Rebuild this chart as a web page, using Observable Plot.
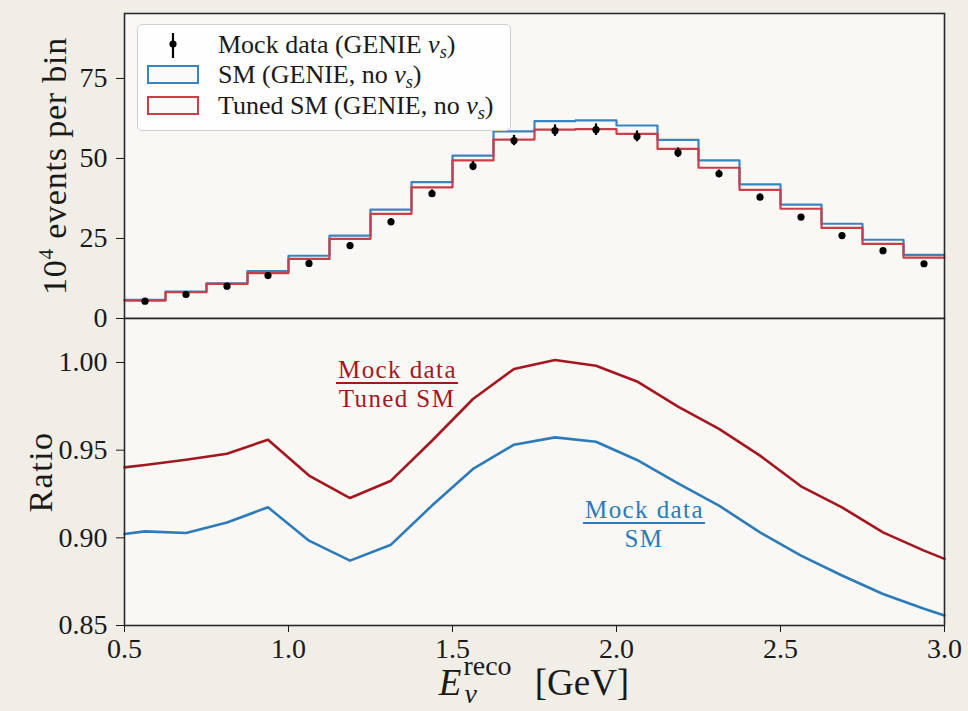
<!DOCTYPE html>
<html>
<head>
<meta charset="utf-8">
<script src="https://cdn.jsdelivr.net/npm/d3@7"></script>
<script src="https://cdn.jsdelivr.net/npm/@observablehq/plot@0.6"></script>
<style>
  html, body { margin: 0; padding: 0; background: #f1eee8; }
  #wrap { position: relative; width: 968px; height: 711px; overflow: hidden; background: #f1eee8;
          font-family: "Liberation Serif", "DejaVu Serif", serif; color: #1a1a1a; }
  #wrap svg { position: absolute; left: 0; overflow: visible; }
  .lbl { position: absolute; white-space: nowrap; }
  .legend { position: absolute; left: 137px; top: 24px; width: 374px; height: 107px;
            border: 1.5px solid #cfcfcf; border-radius: 5px; background: rgba(255,255,255,0.85);
            box-sizing: border-box; }
  .row { position: absolute; left: 80px; font-size: 26px; line-height: 24px; height: 24px; white-space: nowrap; }
  .row sub { font-size: 0.7em; line-height: 0; vertical-align: -0.25em; }
  .patch { position: absolute; left: 9px; width: 52px; height: 19px; box-sizing: border-box; background: #fafafa; }
  .frac { position: absolute; display: flex; flex-direction: column; align-items: center;
          font-size: 25px; letter-spacing: 1.4px; white-space: nowrap; }
  .frac .num { line-height: 22px; height: 22px; padding: 0 1px 1px 2px; border-bottom: 2px solid currentColor; }
  .frac .den { line-height: 22px; height: 22px; margin-top: 4px; }
</style>
</head>
<body>
<div id="wrap"></div>
<script>
// ---------------- data ----------------
const binEdges = [0.5, 0.625, 0.75, 0.875, 1.0, 1.125, 1.25, 1.375, 1.5, 1.625, 1.75,
                  1.875, 2.0, 2.125, 2.25, 2.375, 2.5, 2.625, 2.75, 2.875, 3.0];
const smValues    = [5.8, 8.4, 11.0, 14.8, 19.6, 25.9, 34.0, 42.6, 50.9, 58.5,
                     61.7, 61.9, 60.3, 55.8, 49.4, 41.9, 35.6, 29.6, 24.6, 19.9];
const tunedValues = [5.6, 8.2, 10.8, 14.2, 18.6, 24.9, 32.7, 41.0, 49.4, 55.9,
                     59.0, 59.2, 57.7, 53.0, 47.1, 40.2, 34.3, 28.3, 23.3, 19.0];
const dataValues  = [5.4, 7.5, 10.1, 13.4, 17.2, 22.8, 30.2, 39.0, 47.6, 55.6,
                     58.7, 59.0, 56.9, 51.8, 45.2, 37.9, 31.7, 25.9, 21.2, 17.1];
const dataErrors  = [0.4, 0.5, 0.6, 0.7, 0.8, 0.9, 1.0, 1.2, 1.4, 1.6,
                     1.8, 1.8, 1.7, 1.5, 1.2, 1.0, 0.8, 0.7, 0.6, 0.5];

const ratioX     = [0.5, 0.5625, 0.6875, 0.8125, 0.9375, 1.0625, 1.1875, 1.3125, 1.4375, 1.5625, 1.6875,
                    1.8125, 1.9375, 2.0625, 2.1875, 2.3125, 2.4375, 2.5625, 2.6875, 2.8125, 2.9375, 3.0];
const ratioTuned = [0.9402, 0.9415, 0.9445, 0.9480, 0.9560, 0.9355, 0.9227, 0.9326, 0.9554, 0.9792, 0.9963,
                    1.0014, 0.9982, 0.9892, 0.9748, 0.9621, 0.9469, 0.9294, 0.9174, 0.9031, 0.8927, 0.8880];
const ratioSM    = [0.9022, 0.9037, 0.9028, 0.9088, 0.9174, 0.8984, 0.8870, 0.8961, 0.9184, 0.9393, 0.9531,
                    0.9573, 0.9548, 0.9444, 0.9311, 0.9184, 0.9031, 0.8899, 0.8785, 0.8680, 0.8595, 0.8557];

const topTicks = [0, 25, 50, 75];
const ratioTicks = [0.85, 0.90, 0.95, 1.00];
const xTicks = [0.5, 1.0, 1.5, 2.0, 2.5, 3.0];

// ---------------- colours ----------------
const histBlue = "#3a84bf", histRed = "#cc3d4a";
const ratioRed = "#a5171f", ratioBlue = "#2d7bb8";
const panelBg = "#f9f8f5", frameCol = "#2a2a2a";

// ---------------- tables ----------------
const stepTable = binEdges.map((e, i) => ({
  x: e,
  sm: smValues[Math.min(i, smValues.length - 1)],
  tuned: tunedValues[Math.min(i, tunedValues.length - 1)]
}));
const pts = dataValues.map((v, i) => ({
  c: (binEdges[i] + binEdges[i + 1]) / 2, v, lo: v - dataErrors[i], hi: v + dataErrors[i]
}));
const ratioTable = ratioX.map((x, i) => ({x, tuned: ratioTuned[i], sm: ratioSM[i]}));

const W = 968, ML = 124, MR = 24;
const font = '"Liberation Serif", "DejaVu Serif", serif';
const wrap = document.getElementById("wrap");

// ---------------- top panel ----------------
const topPlot = Plot.plot({
  width: W, height: 318,
  marginLeft: ML, marginRight: MR, marginTop: 13, marginBottom: 0,
  style: {background: "transparent", fontFamily: font, fontSize: "28px", color: "#1a1a1a", overflow: "visible"},
  x: {domain: [0.5, 3.0], axis: null},
  y: {domain: [0, 95.3], ticks: topTicks, tickSize: 8, tickPadding: 9, label: null, tickFormat: d => String(d)},
  marks: [
    Plot.frame({fill: panelBg, stroke: null}),
    Plot.line(stepTable, {x: "x", y: "sm", curve: "step-after", stroke: histBlue, strokeWidth: 2.2}),
    Plot.line(stepTable, {x: "x", y: "tuned", curve: "step-after", stroke: histRed, strokeWidth: 2.2}),
    Plot.ruleX(pts, {x: "c", y1: "lo", y2: "hi", stroke: "#000", strokeWidth: 2.2}),
    Plot.dot(pts, {x: "c", y: "v", r: 3.6, fill: "#000", stroke: null}),
    Plot.frame({stroke: frameCol, strokeWidth: 1.6})
  ]
});
topPlot.style.top = "0px";
wrap.appendChild(topPlot);

// ---------------- ratio panel ----------------
const botPlot = Plot.plot({
  width: W, height: 393,
  marginLeft: ML, marginRight: MR, marginTop: 0, marginBottom: 86,
  style: {background: "transparent", fontFamily: font, fontSize: "28px", color: "#1a1a1a", overflow: "visible"},
  x: {domain: [0.5, 3.0], ticks: xTicks, tickFormat: d3.format(".1f"), tickSize: 7, tickPadding: 6, label: null},
  y: {domain: [0.85, 1.0251], ticks: ratioTicks, tickFormat: d3.format(".2f"), tickSize: 8, tickPadding: 9, label: null},
  marks: [
    Plot.frame({fill: panelBg, stroke: null}),
    Plot.line(ratioTable, {x: "x", y: "tuned", stroke: ratioRed, strokeWidth: 2.6}),
    Plot.line(ratioTable, {x: "x", y: "sm", stroke: ratioBlue, strokeWidth: 2.6}),
    Plot.frame({stroke: frameCol, strokeWidth: 1.6})
  ]
});
botPlot.style.top = "318px";
wrap.appendChild(botPlot);

// ---------------- text overlays ----------------
function add(html, css, cls) {
  const d = document.createElement("div");
  d.className = cls || "lbl";
  d.innerHTML = html;
  Object.assign(d.style, css);
  wrap.appendChild(d);
  return d;
}

// y-axis titles
add('10<sup style="font-size:0.62em;vertical-align:0.62em;line-height:0">4</sup> events per bin',
    {left: "55px", top: "166px", fontSize: "34px", letterSpacing: "0.8px", lineHeight: "34px",
     transform: "translate(-50%,-50%) rotate(-90deg)"});
add('Ratio', {left: "41px", top: "472px", fontSize: "34px", letterSpacing: "1.5px", lineHeight: "34px",
     transform: "translate(-50%,-50%) rotate(-90deg)"});

// x-axis title
add('<i>E</i><span style="display:inline-block;position:relative;width:64px;height:30px;vertical-align:-4px;">' +
    '<span style="position:absolute;left:2px;top:-16px;font-size:28px;line-height:26px;">reco</span>' +
    '<i style="position:absolute;left:3px;top:14px;font-size:28px;line-height:22px;">ν</i></span> [GeV]',
    {left: ML + "px", width: (W - ML - MR) + "px", top: "664px", textAlign: "center",
     fontSize: "37px", lineHeight: "38px"});

// legend
const lg = add('', {}, 'legend');
lg.innerHTML =
  '<svg width="60" height="30" style="position:absolute;left:6px;top:6px;overflow:visible">' +
  '<line x1="29" y1="2" x2="29" y2="27" stroke="#000" stroke-width="2.2"/>' +
  '<circle cx="29" cy="13" r="3.6" fill="#000"/></svg>' +
  '<div class="row" style="top:8px">Mock data (GENIE <i>ν<sub>s</sub></i>)</div>' +
  '<div class="patch" style="top:40px;border:2px solid ' + histBlue + '"></div>' +
  '<div class="row" style="top:38px">SM (GENIE, no <i>ν<sub>s</sub></i>)</div>' +
  '<div class="patch" style="top:71px;border:2px solid ' + histRed + '"></div>' +
  '<div class="row" style="top:69px">Tuned SM (GENIE, no <i>ν<sub>s</sub></i>)</div>';

// ratio labels
add('<div class="num">Mock data</div><div class="den">Tuned SM</div>',
    {left: "317px", width: "160px", top: "359px", color: ratioRed}, 'frac');
add('<div class="num">Mock data</div><div class="den">SM</div>',
    {left: "564px", width: "160px", top: "499px", color: ratioBlue}, 'frac');
</script>
</body>
</html>
